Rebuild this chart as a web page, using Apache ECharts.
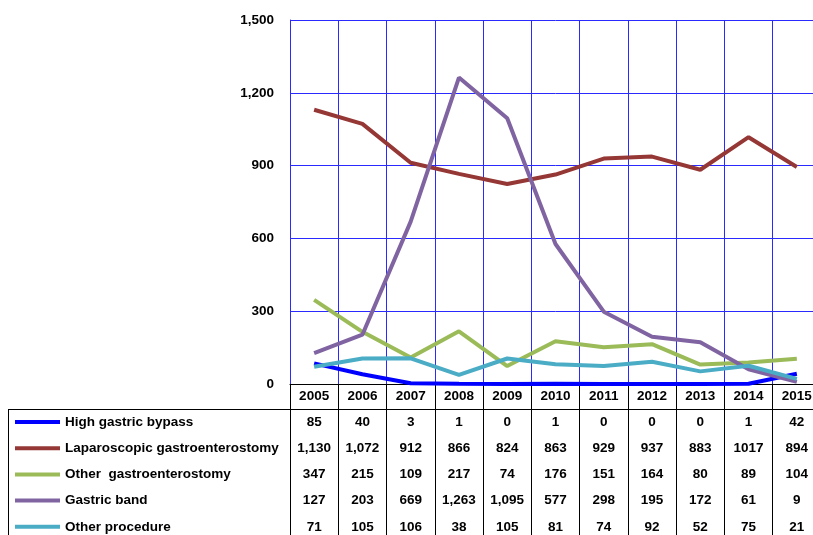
<!DOCTYPE html>
<html>
<head>
<meta charset="utf-8">
<script src="https://cdn.jsdelivr.net/npm/echarts@6/dist/echarts.min.js"></script>
<style>
html,body{margin:0;padding:0;overflow:hidden;background:#fff;}
#chart{width:830px;height:570px;}
</style>
</head>
<body>
<div id="chart"></div>
<script>
const years = ['2005','2006','2007','2008','2009','2010','2011','2012','2013','2014','2015'];
const highGastricBypass = [85, 40, 3, 1, 0, 1, 0, 0, 0, 1, 42];
const laparoscopicGastroenterostomy = [1130, 1072, 912, 866, 824, 863, 929, 937, 883, 1017, 894];
const otherGastroenterostomy = [347, 215, 109, 217, 74, 176, 151, 164, 80, 89, 104];
const gastricBand = [127, 203, 669, 1263, 1095, 577, 298, 195, 172, 61, 9];
const otherProcedure = [71, 105, 106, 38, 105, 81, 74, 92, 52, 75, 21];
const seriesNames = ['High gastric bypass', 'Laparoscopic gastroenterostomy', 'Other  gastroenterostomy', 'Gastric band', 'Other procedure'];
const seriesColors = ['#0000FF', '#953735', '#9BBB59', '#8064A2', '#4BACC6'];
const yMin = 0, yMax = 1500, yStep = 300;

const allValues = [highGastricBypass, laparoscopicGastroenterostomy, otherGastroenterostomy, gastricBand, otherProcedure];

const FONT = '"Liberation Sans", Arial, sans-serif';
const H = 570;
const gridLeft = 290, gridTop = 20, axisY = 384, colW = 48.27;
const rowTop = 422, rowStep = 26.2;

function fmtCell(v, i) {
  // the source table prints the 2014 column without thousands separators
  return years[i] === '2014' ? String(v) : v.toLocaleString('en-US');
}

const chart = echarts.init(document.getElementById('chart'), null, {renderer: 'canvas'});

const xAxes = [{
  type: 'category',
  data: years,
  boundaryGap: true,
  position: 'bottom',
  axisLine: {show: true, lineStyle: {color: '#000', width: 1}},
  axisTick: {show: true, interval: 0, length: H - axisY, lineStyle: {color: '#000', width: 1}},
  splitLine: {show: true, interval: 0, lineStyle: {color: '#2a2aff', width: 1}},
  axisLabel: {interval: 0, margin: 12, verticalAlign: 'middle', color: '#000', fontFamily: FONT, fontWeight: 'bold', fontSize: 13.5}
}];
allValues.forEach((vals, r) => {
  xAxes.push({
    type: 'category',
    data: years,
    boundaryGap: true,
    position: 'bottom',
    offset: rowTop + r * rowStep - axisY,
    axisLine: {show: false},
    axisTick: {show: false},
    splitLine: {show: false},
    axisLabel: {
      interval: 0, margin: 0, verticalAlign: 'middle', color: '#000',
      fontFamily: FONT, fontWeight: 'bold', fontSize: 13.5,
      formatter: (v, i) => fmtCell(vals[i], i)
    }
  });
});

const option = {
  animation: false,
  backgroundColor: '#fff',
  grid: {left: gridLeft, top: gridTop, width: colW * years.length, bottom: H - axisY, containLabel: false},
  legend: {
    orient: 'vertical',
    left: 15,
    top: rowTop - 8,
    height: 150,
    padding: 0,
    itemWidth: 45,
    itemHeight: 4,
    itemGap: rowStep - 16,
    icon: 'rect',
    data: seriesNames,
    selectedMode: false,
    textStyle: {color: '#000', fontFamily: FONT, fontWeight: 'bold', fontSize: 13.5, lineHeight: 16}
  },
  xAxis: xAxes,
  yAxis: {
    type: 'value',
    min: yMin, max: yMax, interval: yStep,
    axisLine: {show: true, lineStyle: {color: '#2a2aff'}},
    axisTick: {show: false},
    splitLine: {show: true, lineStyle: {color: '#2a2aff', width: 1}},
    axisLabel: {margin: 16, color: '#000', fontFamily: FONT, fontWeight: 'bold', fontSize: 13.5,
      formatter: v => v.toLocaleString('en-US')}
  },
  series: seriesNames.map((name, k) => ({
    name: name,
    type: 'line',
    data: allValues[k],
    xAxisIndex: 0,
    symbol: 'none',
    showSymbol: false,
    color: seriesColors[k],
    lineStyle: {width: 4, color: seriesColors[k]},
    z: 3 + k
  })),
  graphic: [
    {type: 'line', shape: {x1: 8, y1: 409.5, x2: 830, y2: 409.5}, style: {stroke: '#000', lineWidth: 1}, silent: true},
    {type: 'line', shape: {x1: 8.5, y1: 409, x2: 8.5, y2: H}, style: {stroke: '#000', lineWidth: 1}, silent: true}
  ]
};
chart.setOption(option);
</script>
</body>
</html>
